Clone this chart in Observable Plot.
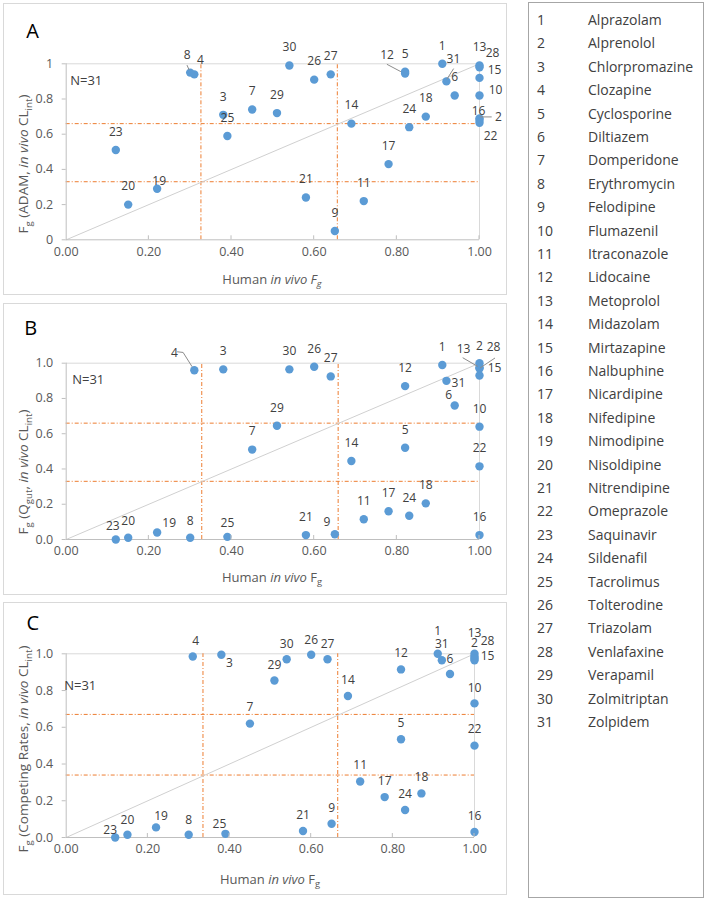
<!DOCTYPE html>
<html><head><meta charset="utf-8">
<script src="https://cdn.jsdelivr.net/npm/d3@7"></script>
<script src="https://cdn.jsdelivr.net/npm/@observablehq/plot@0.6"></script>
<style>
body{margin:0;background:#fff;}
#root{position:relative;width:709px;height:902px;font-family:"Open Sans","Noto Sans",sans-serif;}
.box{position:absolute;border:1px solid #d9d9d9;box-sizing:border-box;}
#root svg{position:absolute;left:3px;overflow:visible;}
.lg{position:absolute;font-size:14px;color:#404040;line-height:18px;height:18px;white-space:nowrap;}
</style></head><body><div id="root"></div>
<script>
const FONT = '"Open Sans","Noto Sans",sans-serif';

// ---- data ----
const drugIds = [1,2,3,4,5,6,7,8,9,10,11,12,13,14,15,16,17,18,19,20,21,22,23,24,25,26,27,28,29,30,31];
const drugNames = ["Alprazolam","Alprenolol","Chlorpromazine","Clozapine","Cyclosporine","Diltiazem","Domperidone","Erythromycin","Felodipine","Flumazenil","Itraconazole","Lidocaine","Metoprolol","Midazolam","Mirtazapine","Nalbuphine","Nicardipine","Nifedipine","Nimodipine","Nisoldipine","Nitrendipine","Omeprazole","Saquinavir","Sildenafil","Tacrolimus","Tolterodine","Triazolam","Venlafaxine","Verapamil","Zolmitriptan","Zolpidem"];
const humanFg    = [0.91,1.00,0.38,0.31,0.82,0.94,0.45,0.30,0.65,1.00,0.72,0.82,1.00,0.69,1.00,1.00,0.78,0.87,0.22,0.15,0.58,1.00,0.12,0.83,0.39,0.60,0.64,1.00,0.51,0.54,0.92];
const fgADAM     = [1.00,0.68,0.71,0.94,0.955,0.82,0.74,0.95,0.05,0.82,0.22,0.945,0.99,0.66,0.92,0.69,0.43,0.70,0.29,0.20,0.24,0.665,0.51,0.64,0.59,0.91,0.94,0.98,0.72,0.99,0.90];
const fgQgut     = [0.99,1.00,0.965,0.96,0.52,0.76,0.51,0.01,0.03,0.64,0.115,0.87,0.975,0.445,0.93,0.025,0.16,0.205,0.04,0.01,0.025,0.415,0.00,0.135,0.015,0.98,0.925,0.97,0.645,0.965,0.90];
const fgCompeting= [1.00,0.985,0.995,0.985,0.535,0.89,0.62,0.015,0.075,0.73,0.305,0.915,1.00,0.77,0.965,0.03,0.22,0.24,0.055,0.015,0.035,0.50,0.00,0.15,0.02,0.995,0.97,0.975,0.855,0.97,0.965];
const refXA = [0.326,0.656], refYA = [0.33,0.66];
const refXB = [0.328,0.658], refYB = [0.33,0.66];
const refXC = [0.335,0.665], refYC = [0.34,0.67];
const xTicks = [0,0.2,0.4,0.6,0.8,1.0];
const yTicks = [0,0.2,0.4,0.6,0.8,1.0];
const identity = [0,1];
const nLabel = "N=31";

// ---- layout (label offsets in px, leader lines in px relative to point) ----
const layoutA = {def:[0,-18], off:{8:[-3,-17],4:[6,-14],19:[2,-8],12:[-18,-18],31:[7,-22],13:[0,-18],28:[13,-14],15:[15,-8],10:[16,-5],16:[-1,-7],2:[19,-3],22:[11,13]},
  leaders:{12:[[-17.7,-8.7],[-3.7,-1.3]],31:[[7.7,-12.3],[1,-1.7]],2:[[1,-2.7],[12.7,-2.7]],8:[[-2.7,-7],[-0.5,-2]]}};
const layoutB = {def:[0,-18], off:{4:[-20,-17],23:[-3,-13],20:[0,-17],19:[12,-9],8:[0,-17],25:[0,-14],9:[-8,-12],31:[12,2],6:[-6,-10],13:[-16,-18],2:[0,-17],28:[14,-21],15:[15,-7],1:[0,-18]},
  leaders:{4:[[-16.7,-18],[-10.7,-17.3],[-1.7,-3]],13:[[-16.3,-9.4],[-1.3,-0.7]],28:[[16,-10],[1,0]]}};
const layoutC = {def:[0,-16], off:{4:[3,-15],3:[8,8],23:[-5,-7],19:[5,-11],25:[-6,-10],1:[0,-23],13:[0,-21],2:[0,-13],28:[13,-17],15:[13,-4],20:[0,-15],8:[0,-15],30:[0,-15],26:[0,-15],27:[0,-15],29:[0,-15],10:[0,-15],6:[0,-15]},
  leaders:{}};

const root = document.getElementById("root");

function addRich(svg, parts, cx, cy, size, rotate, fill) {
  const t = d3.select(svg).append("text")
    .attr("transform", `translate(${cx},${cy})` + (rotate ? " rotate(-90)" : ""))
    .attr("y", size * 0.35)
    .attr("text-anchor", "middle")
    .attr("font-family", FONT).attr("font-size", size)
    .attr("fill", fill || "#595959")
    .style("white-space", "pre");
  let shift = 0;
  for (const p of parts) {
    const s = t.append("tspan").text(p.t);
    if (p.it) s.attr("font-style", "italic");
    const want = p.sub ? size * 0.3 : 0;
    if (want !== shift) { s.attr("dy", want - shift); shift = want; }
    if (p.sub) s.attr("font-size", size * 0.72);
  }
}

function panel(cfg) {
  const idx = d3.range(drugIds.length);
  const L = cfg.layout;
  const labelMarks = idx.map(i => {
    const o = L.off[drugIds[i]] || L.def;
    return Plot.text([i], {x: j => humanFg[j], y: j => cfg.yvals[j], text: j => String(drugIds[j]),
      dx: o[0], dy: o[1], fontSize: 12, fill: "#404040", fontFamily: FONT});
  });
  const chart = Plot.plot({
    width: 504, height: cfg.height,
    marginLeft: 62.7, marginRight: cfg.mR, marginTop: cfg.mT, marginBottom: cfg.mB,
    x: {domain: [0, 1]}, y: {domain: [0, 1]},
    style: {fontFamily: FONT, fontSize: "12px", color: "#595959", background: "transparent", overflow: "visible"},
    marks: [
      Plot.ruleY([1], {stroke: "#d9d9d9"}),
      Plot.ruleX([1], {stroke: "#d9d9d9"}),
      Plot.ruleX(cfg.refX, {x: d => d, y1: 0, y2: 1, stroke: "#ED7D31", strokeWidth: 1, strokeDasharray: "4,2,1,2"}),
      Plot.ruleY(cfg.refY, {y: d => d, x1: 0, x2: 1, stroke: "#ED7D31", strokeWidth: 1, strokeDasharray: "4,2,1,2"}),
      Plot.line(identity, {x: d => d, y: d => d, stroke: "#d0d0d0", strokeWidth: 1}),
      Plot.ruleX([0], {stroke: "#bfbfbf"}),
      Plot.ruleY([0], {stroke: "#bfbfbf"}),
      Plot.axisY({ticks: yTicks, tickFormat: cfg.yFmt, tickSize: 4, tickPadding: 9, label: null, stroke: "#bfbfbf", fill: "#595959", fontSize: 12.5}),
      Plot.axisX({ticks: xTicks, tickFormat: d => d.toFixed(2), tickSize: 0, tickPadding: 7, label: null, fill: "#595959", fontSize: 12.5}),
      Plot.dot(idx, {x: i => humanFg[i], y: i => cfg.yvals[i], r: 4.2, fill: "#5B9BD5"}),
      ...labelMarks,
      Plot.text([nLabel], {frameAnchor: "top-left", textAnchor: "start", dx: cfg.nPos[0], dy: cfg.nPos[1], fontSize: 13, fill: "#404040", fontFamily: FONT})
    ]
  });
  chart.style.top = cfg.top + "px";
  root.appendChild(chart);
  const sx = chart.scale("x"), sy = chart.scale("y");
  const svg = d3.select(chart);
  // inward x ticks
  xTicks.slice(1).forEach(t => {
    svg.append("line").attr("x1", sx.apply(t)).attr("x2", sx.apply(t))
      .attr("y1", sy.apply(0)).attr("y2", sy.apply(0) - 4).attr("stroke", "#bfbfbf");
  });
  // leader lines
  Object.entries(L.leaders).forEach(([id, pts]) => {
    const i = drugIds.indexOf(+id);
    const px = sx.apply(humanFg[i]), py = sy.apply(cfg.yvals[i]);
    svg.append("path").attr("d", d3.line()(pts.map(p => [px + p[0], py + p[1]])))
      .attr("fill", "none").attr("stroke", "#8c8c8c").attr("stroke-width", 1);
  });
  // panel letter and axis titles (absolute coords -> svg coords)
  addRich(chart, [{t: cfg.letter}], cfg.letterPos[0] - 3, cfg.letterPos[1] - cfg.top, 20, false, "#000");
  addRich(chart, cfg.yParts, cfg.yPos[0] - 3, cfg.yPos[1] - cfg.top, 13.5, true);
  addRich(chart, cfg.xParts, cfg.xPos[0] - 3, cfg.xPos[1] - cfg.top, 13, false);
  const b = document.createElement("div");
  b.className = "box";
  Object.assign(b.style, {left: "3px", top: cfg.top + "px", width: "504px", height: cfg.height + "px"});
  root.insertBefore(b, root.firstChild);
}

const xPartsA = [{t: "Human "}, {t: "in vivo", it: true}, {t: " "}, {t: "F", it: true}, {t: "g", sub: true, it: true}];
const xPartsBC = [{t: "Human "}, {t: "in vivo", it: true}, {t: " F"}, {t: "g", sub: true}];

panel({top: 3, height: 292, mR: 28, mT: 60.3, mB: 55.7, yvals: fgADAM, refX: refXA, refY: refYA,
  yFmt: d => (d === 0 || d === 1) ? String(d) : d.toFixed(1), layout: layoutA, nPos: [4, 12],
  letter: "A", letterPos: [32.7, 30.7],
  yParts: [{t: "F"}, {t: "g", sub: true}, {t: " (ADAM, "}, {t: "in vivo", it: true}, {t: " CL"}, {t: "int", sub: true}, {t: ")"}],
  yPos: [23, 164], xParts: xPartsA, xPos: [272, 279]});

panel({top: 303, height: 292, mR: 28, mT: 59.7, mB: 56, yvals: fgQgut, refX: refXB, refY: refYB,
  yFmt: d => d.toFixed(1), layout: layoutB, nPos: [6, 12],
  letter: "B", letterPos: [30.7, 328.3],
  yParts: [{t: "F"}, {t: "g", sub: true}, {t: " (Q"}, {t: "gut", sub: true}, {t: ", "}, {t: "in vivo", it: true}, {t: " CL"}, {t: "int", sub: true}, {t: ")"}],
  yPos: [23, 472], xParts: xPartsBC, xPos: [272, 577]});

panel({top: 602, height: 293, mR: 33, mT: 51.3, mB: 58, yvals: fgCompeting, refX: refXC, refY: refYC,
  yFmt: d => d.toFixed(1), layout: layoutC, nPos: [-2, 27],
  letter: "C", letterPos: [32.7, 623.3],
  yParts: [{t: "F"}, {t: "g", sub: true}, {t: " (Competing Rates, "}, {t: "in vivo", it: true}, {t: " CL"}, {t: "int", sub: true}, {t: ")"}],
  yPos: [23, 749], xParts: xPartsBC, xPos: [270, 879]});

// legend
const lg = document.createElement("div");
lg.className = "box";
Object.assign(lg.style, {left: "528px", top: "2px", width: "176px", height: "896px", borderColor: "#a6a6a6"});
root.appendChild(lg);
drugIds.forEach((id, i) => {
  const cy = 20 + i * 23.4;
  const n = document.createElement("div");
  n.className = "lg"; n.textContent = String(id);
  Object.assign(n.style, {left: "537px", top: (cy - 9) + "px"});
  const t = document.createElement("div");
  t.className = "lg"; t.textContent = drugNames[i];
  Object.assign(t.style, {left: "588px", top: (cy - 9) + "px"});
  root.appendChild(n); root.appendChild(t);
});
</script></body></html>
